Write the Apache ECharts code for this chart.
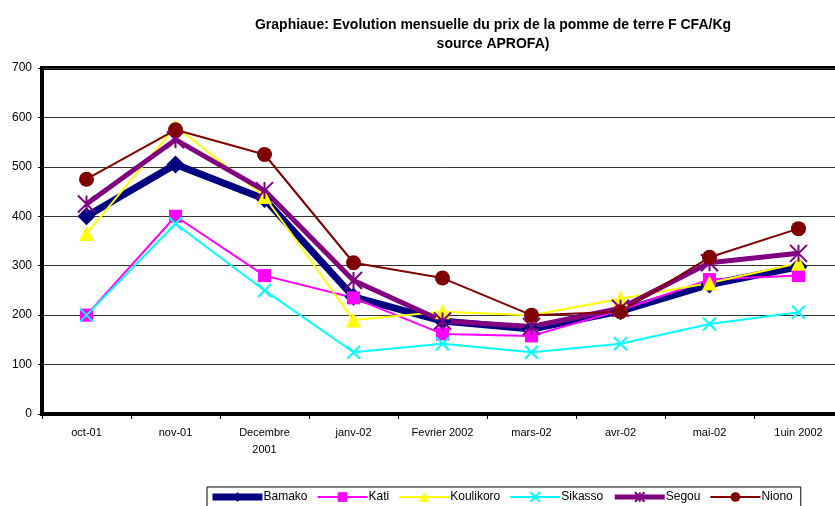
<!DOCTYPE html>
<html>
<head>
<meta charset="utf-8">
<script src="https://cdn.jsdelivr.net/npm/echarts@6/dist/echarts.min.js"></script>
<style>
  html, body { margin: 0; padding: 0; background: #fff; overflow: hidden; }
  /* plot area runs a few px past the right edge, as in the original */
  #main { width: 843px; height: 506px; }
</style>
</head>
<body>
<div id="main"></div>
<script>
    // mois
    var months = ['oct-01', 'nov-01', 'Decembre\n2001', 'janv-02', 'Fevrier 2002', 'mars-02', 'avr-02', 'mai-02', '1uin 2002'];

    // prix F CFA/Kg
    var bamako    = [400, 505, 435, 237, 188, 172, 208, 262, 298];
    var kati      = [200, 400, 280, 235, 162, 158, 210, 272, 280];
    var koulikoro = [365, 582, 440, 190, 207, 200, 233, 265, 305];
    var sikasso   = [200, 385, 250, 125, 142, 125, 142, 182, 206];
    var segou     = [425, 555, 452, 270, 188, 177, 214, 306, 325];
    var niono     = [475, 575, 525, 306, 275, 200, 207, 317, 375];

    var crossPath = 'path://M0,0 L10,10 M10,0 L0,10';
    var starPath = 'path://M0,0 L10,10 M10,0 L0,10 M5,0 L5,10';

    var myChart = echarts.init(document.getElementById('main'));
    var option = {
        backgroundColor: '#fff',
        animation: false,
        title: {
            text: 'Graphiaue: Evolution mensuelle du prix de la pomme de terre F CFA/Kg\nsource APROFA)',
            left: 488,
            textAlign: 'center',
            top: 11,
            textStyle: {
                fontFamily: 'Liberation Sans, Arial',
                fontSize: 14,
                fontWeight: 'bold',
                color: '#000',
                lineHeight: 19
            }
        },
        legend: {
            left: 207,
            top: 487,
            padding: [4, 8, 6, 2],
            itemGap: 9,
            itemWidth: 50,
            itemHeight: 12,
            borderColor: '#000',
            borderWidth: 1,
            textStyle: { fontFamily: 'Liberation Sans, Arial', fontSize: 12, color: '#000', padding: [0, 0, 0, -4] },
            data: [
                { name: 'Bamako', lineStyle: { width: 7 } },
                { name: 'Kati', lineStyle: { width: 2 } },
                { name: 'Koulikoro', lineStyle: { width: 2 } },
                { name: 'Sikasso', lineStyle: { width: 2 } },
                { name: 'Segou', lineStyle: { width: 5 } },
                { name: 'Niono', lineStyle: { width: 2 } }
            ]
        },
        grid: {
            left: 42,
            top: 68,
            right: 0,
            bottom: 92,
            show: true,
            borderColor: '#000',
            borderWidth: 4
        },
        xAxis: {
            type: 'category',
            data: months,
            boundaryGap: true,
            axisLine: { lineStyle: { color: '#000', width: 4 } },
            axisTick: { show: true, length: 5, lineStyle: { color: '#000' } },
            axisLabel: { fontFamily: 'Liberation Sans, Arial', fontSize: 11, color: '#000', margin: 10, lineHeight: 17, interval: 0 }
        },
        yAxis: {
            type: 'value',
            min: 0,
            max: 700,
            interval: 100,
            axisLine: { show: true, lineStyle: { color: '#000', width: 4 } },
            axisTick: { show: true, length: 4, lineStyle: { color: '#000' } },
            axisLabel: { fontFamily: 'Liberation Sans, Arial', fontSize: 12, color: '#000', margin: 10 },
            splitLine: { lineStyle: { color: '#333', width: 1 } }
        },
        series: [
            {
                name: 'Bamako', type: 'line', data: bamako,
                symbol: 'diamond', symbolSize: 18,
                lineStyle: { color: '#000080', width: 7 },
                itemStyle: { color: '#000080' }
            },
            {
                name: 'Kati', type: 'line', data: kati,
                symbol: 'rect', symbolSize: 13,
                lineStyle: { color: '#ff00ff', width: 2 },
                itemStyle: { color: '#ff00ff' }
            },
            {
                name: 'Koulikoro', type: 'line', data: koulikoro,
                symbol: 'triangle', symbolSize: 15,
                lineStyle: { color: '#ffff00', width: 2 },
                itemStyle: { color: '#ffff00' }
            },
            {
                name: 'Sikasso', type: 'line', data: sikasso,
                symbol: crossPath, symbolSize: 13,
                lineStyle: { color: '#00ffff', width: 2 },
                itemStyle: { color: '#00ffff', borderColor: '#00ffff', borderWidth: 2 }
            },
            {
                name: 'Segou', type: 'line', data: segou,
                symbol: starPath, symbolSize: 17,
                lineStyle: { color: '#800080', width: 5 },
                itemStyle: { color: '#800080', borderColor: '#800080', borderWidth: 2 }
            },
            {
                name: 'Niono', type: 'line', data: niono,
                symbol: 'circle', symbolSize: 15,
                lineStyle: { color: '#800000', width: 2 },
                itemStyle: { color: '#800000' }
            }
        ]
    };
    myChart.setOption(option);
</script>
</body>
</html>
